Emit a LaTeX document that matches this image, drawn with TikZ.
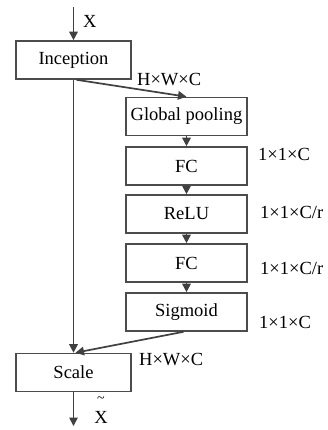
\documentclass[tikz,border=0pt]{standalone}
\usepackage{fontspec}
\setmainfont{Liberation Serif}
\usetikzlibrary{positioning,arrows.meta}
\begin{document}
\begin{tikzpicture}[x=1pt,y=-1pt,
    font=\fontsize{18.5}{20}\selectfont,
    block/.style={draw=black!70,line width=1.6pt,minimum height=38pt,inner sep=0pt},
    wideblock/.style={block,minimum width=115pt},
    sideblock/.style={block,minimum width=121pt},
    flow/.style={draw=black!75,line width=1.7pt,-{Triangle[length=8.5pt,width=8.5pt]}},
    dims/.style={anchor=west,inner sep=0pt}]

    \useasboundingbox (0,0) rectangle (327,430);

    %main path:
    \coordinate (in) at (73.5,7);
    \node[wideblock] (inception) at (73.5,60) {Inception};
    \node[wideblock] (scale) at (73.5,372.5) {Scale};
    \coordinate (out) at (73.5,426);

    %squeeze and excitation branch:
    \node[sideblock] (pool) at (186.5,116.5) {Global pooling};
    \node[sideblock] (fc1) at (186.5,166) {FC};
    \node[sideblock] (relu) at (186.5,214) {ReLU};
    \node[sideblock] (fc2) at (186.5,263) {FC};
    \node[sideblock] (sig) at (186.5,312) {Sigmoid};

    %connectors:
    \draw[flow] (in) -- (inception);
    \draw[flow] ([xshift=3pt]inception.south) -- (pool.north);
    \draw[flow] (pool) -- (fc1);
    \draw[flow] (fc1) -- (relu);
    \draw[flow] (relu) -- (fc2);
    \draw[flow] (fc2) -- (sig);
    \draw[flow] (inception) -- (scale);
    \draw[flow] ([xshift=-3pt]sig.south) -- ([xshift=2pt]scale.north);
    \draw[flow] (scale) -- (out);

    %sizes:
    \node[dims] (xin) at (83,21) {X};
    \node[dims] (d1) at (137,80) {H×W×C};
    \node[dims] (d2) at (258,154) {1×1×C};
    \node[dims] (d3) at (260,212) {1×1×C/r};
    \node[dims] (d4) at (260,268) {1×1×C/r};
    \node[dims] (d5) at (259,322) {1×1×C};
    \node[dims] (d6) at (139,360) {H×W×C};
    \node[align=center,inner sep=0pt] (xout) at (101,410)
        {{\fontsize{14}{8}\selectfont\char"007E}\\[1pt]X};

\end{tikzpicture}
\end{document}
